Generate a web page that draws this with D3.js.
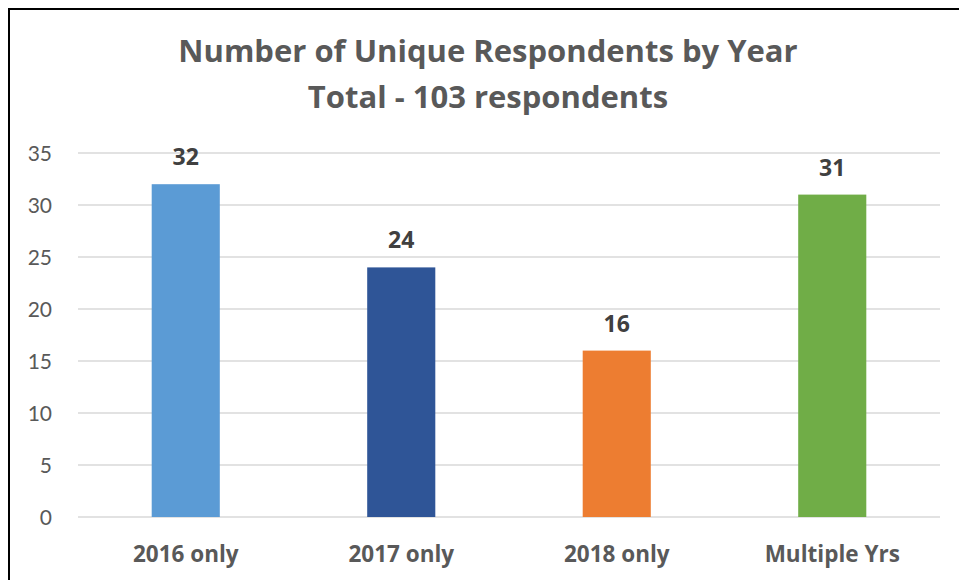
<!DOCTYPE html>
<html>
<head>
<meta charset="utf-8">
<script src="https://cdn.jsdelivr.net/npm/d3@7"></script>
<style>
  html, body { margin: 0; padding: 0; background: #fff; }
  svg { display: block; }
</style>
</head>
<body>
<svg id="chart" width="959" height="580"></svg>
<script>
// Respondent counts per survey year group
const categories = ["2016 only", "2017 only", "2018 only", "Multiple Yrs"];
const respondents = [32, 24, 16, 31];
const barColors = ["#5B9BD5", "#2F5597", "#ED7D31", "#70AD47"];
const yTicks = [0, 5, 10, 15, 20, 25, 30, 35];
const titleLines = ["Number of Unique Respondents by Year", "Total - 103 respondents"];

const svg = d3.select("#chart");
const font = "Lato, 'Open Sans', sans-serif";
const boldFont = "'Open Sans', Lato, sans-serif";

// Chart frame (open on the right/bottom edges of the canvas)
svg.append("path")
  .attr("d", "M9,580 V9 H959")
  .attr("fill", "none")
  .attr("stroke", "#000")
  .attr("stroke-width", 2);

const plot = { left: 78, right: 940, top: 153, bottom: 517 };

const x = d3.scaleBand()
  .domain(categories)
  .range([plot.left, plot.right])
  .paddingInner(0.684)
  .paddingOuter(0.342);

const y = d3.scaleLinear()
  .domain([0, 35])
  .range([plot.bottom, plot.top]);

// Horizontal gridlines
svg.append("g")
  .selectAll("line")
  .data(yTicks)
  .join("line")
  .attr("x1", plot.left)
  .attr("x2", plot.right)
  .attr("y1", d => y(d))
  .attr("y2", d => y(d))
  .attr("stroke", "#D9D9D9")
  .attr("stroke-width", 1.5);

// Value axis labels
const yAxis = d3.axisLeft(y).tickValues(yTicks).tickSize(0).tickPadding(0);
const yg = svg.append("g")
  .attr("transform", `translate(52,0)`)
  .call(yAxis);
yg.select(".domain").remove();
yg.selectAll("text")
  .attr("font-family", font)
  .attr("font-size", 21)
  .attr("fill", "#595959")
  .attr("dy", "0.35em");

// Bars
svg.append("g")
  .selectAll("rect")
  .data(respondents)
  .join("rect")
  .attr("x", (d, i) => x(categories[i]))
  .attr("width", x.bandwidth())
  .attr("y", d => y(d))
  .attr("height", d => y(0) - y(d))
  .attr("fill", (d, i) => barColors[i]);

// Data labels
svg.append("g")
  .selectAll("text")
  .data(respondents)
  .join("text")
  .attr("x", (d, i) => x(categories[i]) + x.bandwidth() / 2)
  .attr("y", d => y(d) - 19)
  .attr("text-anchor", "middle")
  .attr("font-family", boldFont)
  .attr("font-weight", 700)
  .attr("font-size", 23)
  .attr("fill", "#404040")
  .text(d => d);

// Category axis labels
const xAxis = d3.axisBottom(x).tickSize(0).tickPadding(0);
const xg = svg.append("g")
  .attr("transform", `translate(0,${plot.bottom})`)
  .call(xAxis);
xg.select(".domain").remove();
xg.selectAll("text")
  .attr("font-family", boldFont)
  .attr("font-weight", 700)
  .attr("font-size", 22.5)
  .attr("fill", "#595959")
  .attr("dy", null)
  .attr("y", 45);

// Title
svg.append("g")
  .selectAll("text")
  .data(titleLines)
  .join("text")
  .attr("x", 488)
  .attr("y", (d, i) => 62 + i * 46)
  .attr("text-anchor", "middle")
  .attr("font-family", boldFont)
  .attr("font-weight", 700)
  .attr("font-size", 31)
  .attr("fill", "#595959")
  .text(d => d);
</script>
</body>
</html>
